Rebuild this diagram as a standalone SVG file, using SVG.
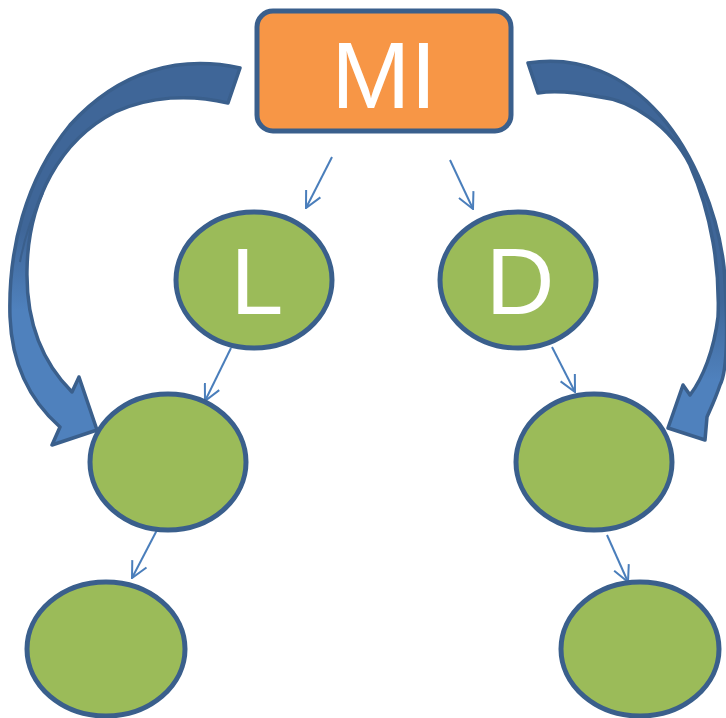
<svg xmlns="http://www.w3.org/2000/svg" width="726" height="718" viewBox="0 0 726 718">
  <style>
    .node { fill: #9BBB59; stroke: #3A5F8C; stroke-width: 5; }
    .root { fill: #F79646; stroke: #3A5F8C; stroke-width: 5; }
    .label { fill: #FFFFFF; font-family: "Liberation Sans", Arial, sans-serif; font-size: 95px; text-anchor: middle; }
    .link { fill: none; stroke: #4A7EBB; stroke-width: 2; marker-end: url(#open); }
    .bend { stroke: #3A5F8C; stroke-width: 3.5; stroke-linejoin: round; }
    .fold { fill: none; stroke: #3A5F8C; stroke-width: 2; }
  </style>
  <defs>
    <marker id="open" markerUnits="userSpaceOnUse" viewBox="0 0 18 18" markerWidth="18" markerHeight="18" refX="17" refY="9" orient="auto">
      <path d="M1,1 L17,9 L1,17" fill="none" stroke="#4A7EBB" stroke-width="2"/>
    </marker>
    <linearGradient id="shadeL" gradientUnits="userSpaceOnUse" x1="0" y1="230" x2="0" y2="310">
      <stop offset="0" stop-color="#3F6698"/>
      <stop offset="1" stop-color="#4F81BD"/>
    </linearGradient>
    <linearGradient id="shadeR" gradientUnits="userSpaceOnUse" x1="0" y1="300" x2="0" y2="380">
      <stop offset="0" stop-color="#3F6698"/>
      <stop offset="1" stop-color="#4F81BD"/>
    </linearGradient>
  </defs>

  <!-- curved arrows and thin links -->
  <g id="connectors">
    <path class="bend" fill="url(#shadeL)" d="M240,68 C180,55 120,70 70,125 C25,180 8,250 10,317 C12,370 35,405 60,427 L52,445 L97,430 L79,377 L72,392 C40,360 26,320 27,270 C28,200 60,140 115,112 C150,96 190,94 228,103 Z"/>
    <path class="fold" d="M43,193 C32,215 24,240 20,262"/>
    <path class="bend" fill="url(#shadeR)" d="M528,63 C580,55 625,75 660,115 C695,155 718,215 724,267 C728,320 728,370 720,385 C715,400 710,410 707,417 L705,440 L668,428 L683,385 L690,395 C703,378 714,350 718,317 C720,270 712,215 690,165 C670,125 630,100 600,97 C575,92 555,90 538,93 Z"/>
    <path class="link" d="M332,157 L306,208"/>
    <path class="link" d="M450,160 L473,209"/>
    <path class="link" d="M231,348 L205,401"/>
    <path class="link" d="M157,530 L132,578"/>
    <path class="link" d="M552,347 L575,392"/>
    <path class="link" d="M607,535 L628,582"/>
  </g>

  <g id="node-mi">
    <rect class="root" x="257" y="11" width="254" height="120" rx="16" ry="16"/>
    <text class="label" x="384" y="108">MI</text>
  </g>
  <g id="node-l">
    <ellipse class="node" cx="254" cy="280" rx="78" ry="68"/>
    <text class="label" x="257" y="314">L</text>
  </g>
  <g id="node-d">
    <ellipse class="node" cx="518" cy="280" rx="78" ry="68"/>
    <text class="label" x="520" y="314">D</text>
  </g>
  <g id="node-left-mid">
    <ellipse class="node" cx="168" cy="462" rx="78" ry="68"/>
  </g>
  <g id="node-right-mid">
    <ellipse class="node" cx="594" cy="462" rx="78" ry="68"/>
  </g>
  <g id="node-left-low">
    <ellipse class="node" cx="106" cy="649" rx="79" ry="67"/>
  </g>
  <g id="node-right-low">
    <ellipse class="node" cx="640" cy="649" rx="79" ry="67"/>
  </g>
</svg>
